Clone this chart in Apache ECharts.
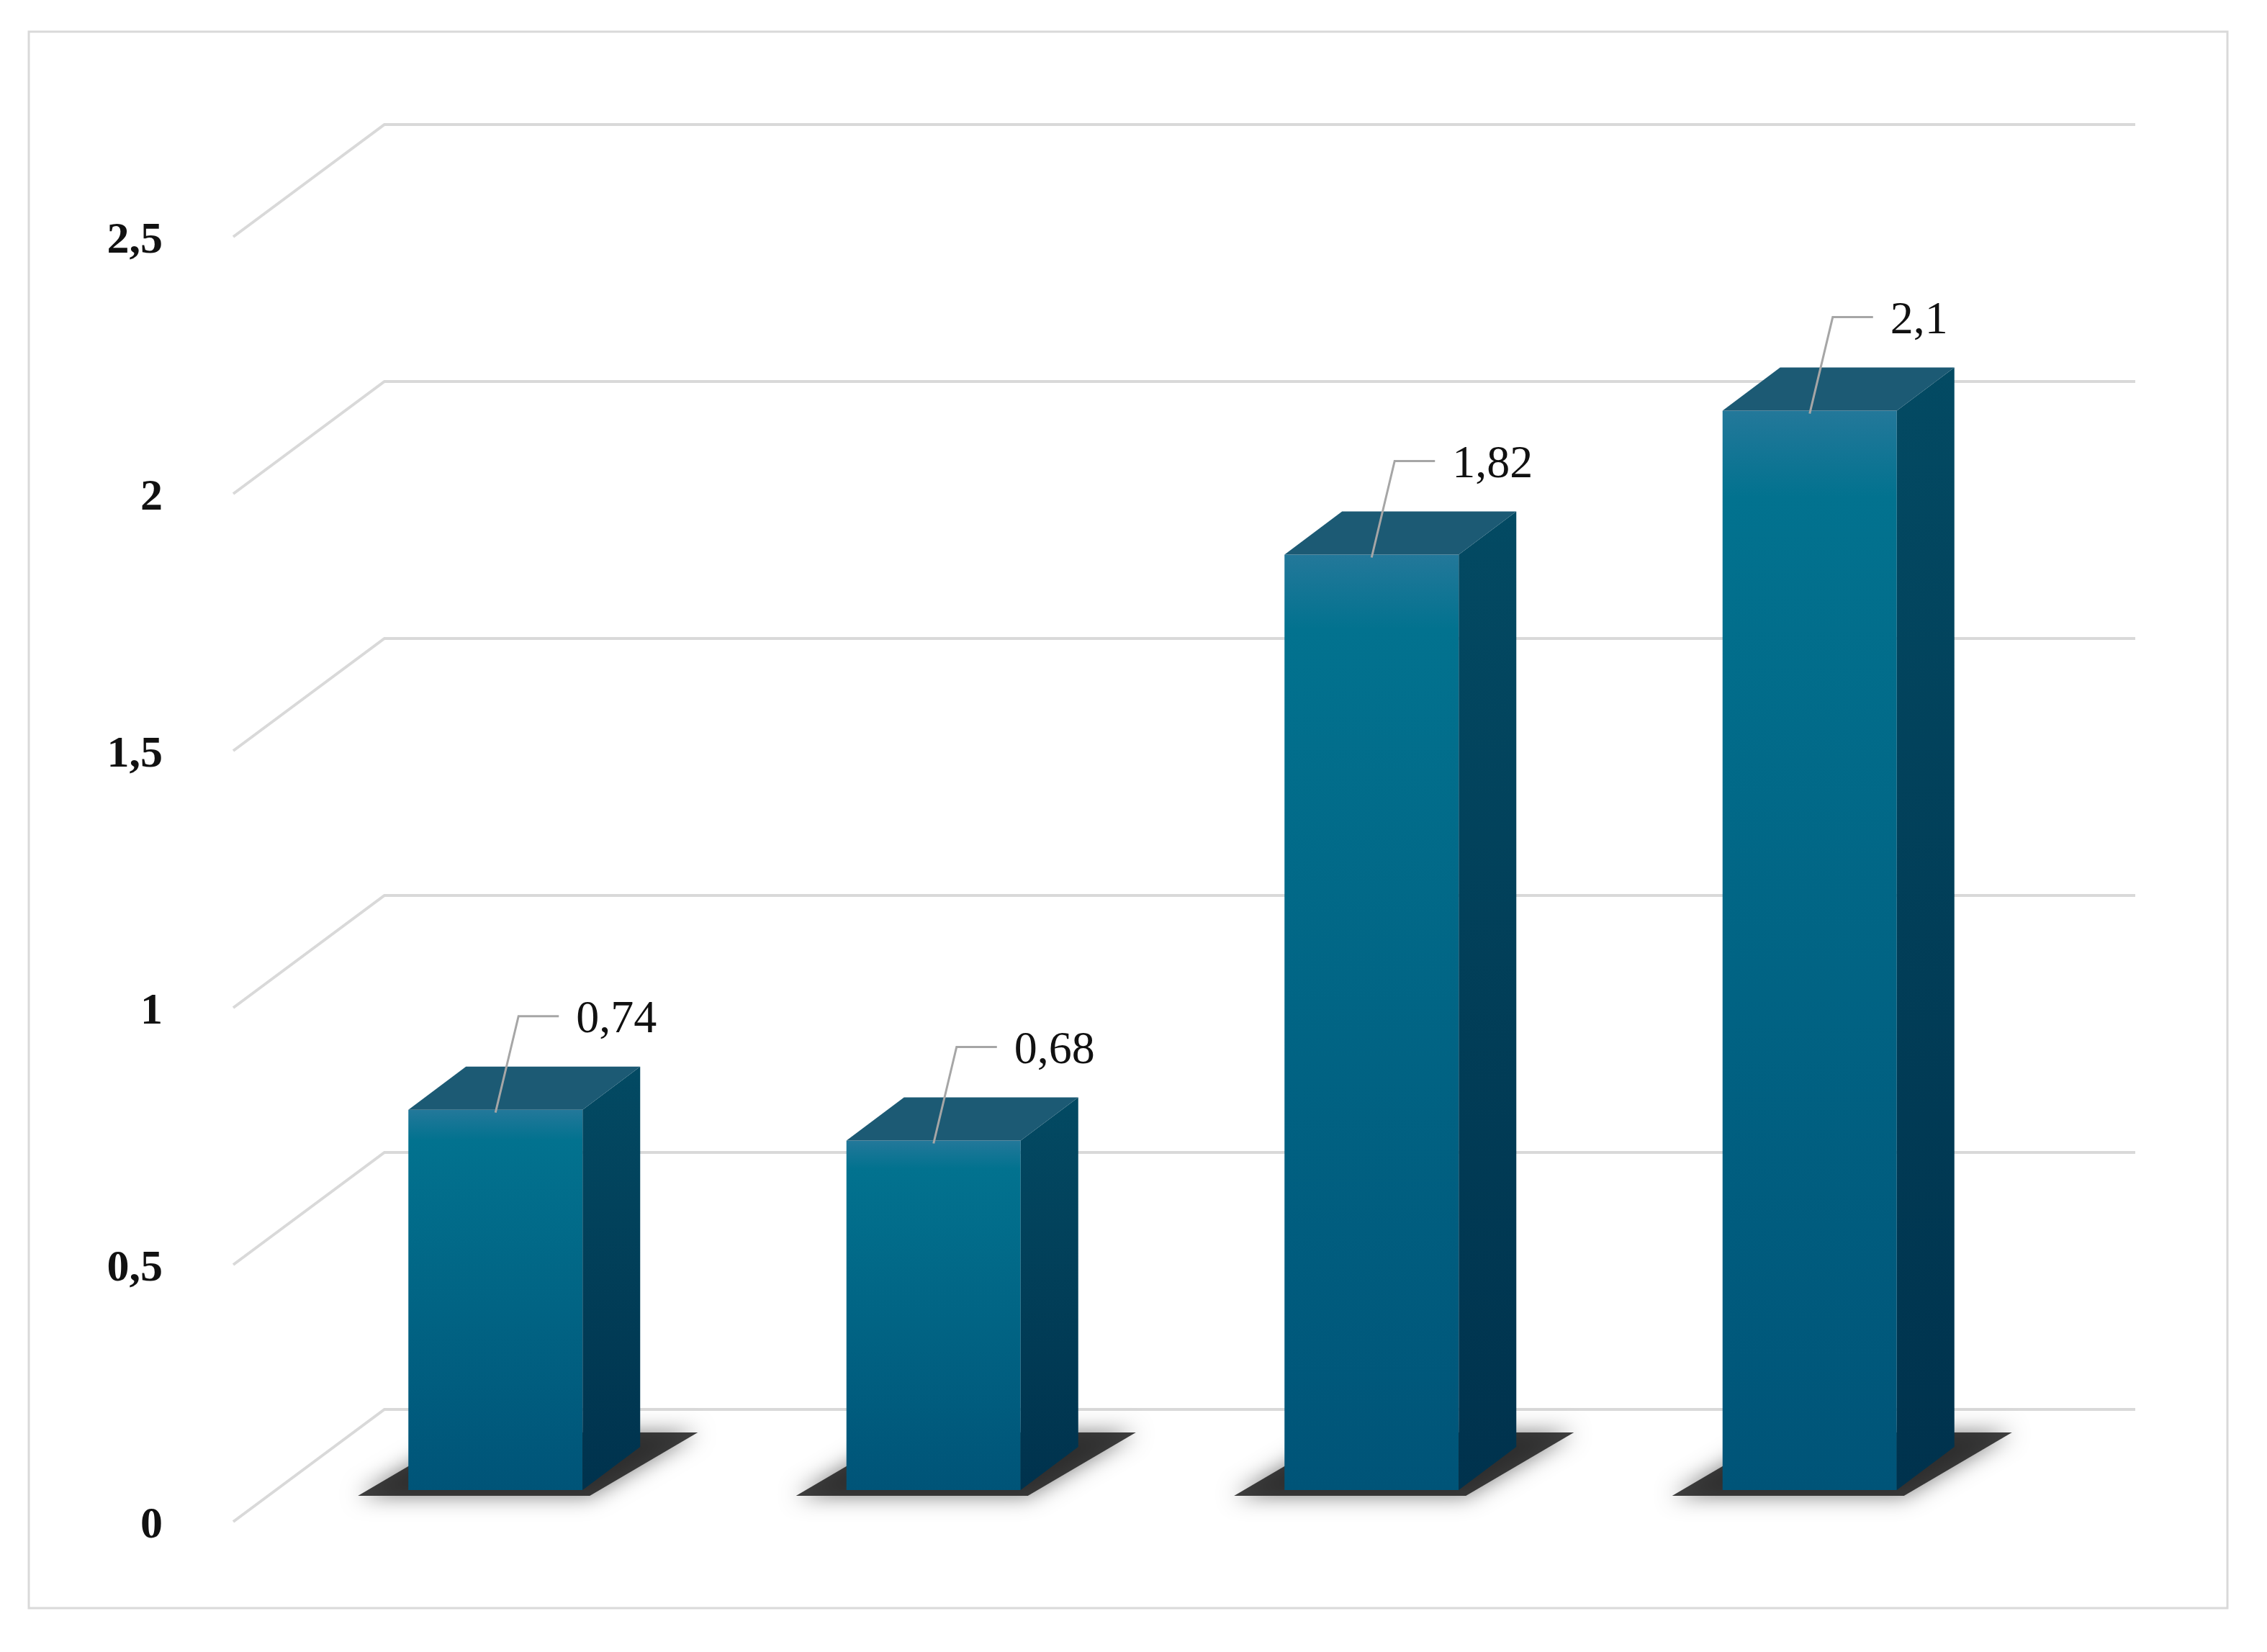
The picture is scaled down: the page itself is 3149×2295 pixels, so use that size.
<!DOCTYPE html>
<html>
<head>
<meta charset="utf-8">
<script src="https://cdn.jsdelivr.net/npm/echarts@6/dist/echarts.min.js"></script>
<style>html,body{margin:0;background:#fff}#chart{width:3149px;height:2295px}</style>
</head>
<body>
<div id="chart"></div>
<script>
const categories = ["A", "B", "C", "D"]
const values = [0.74, 0.68, 1.82, 2.1]
const valueLabels = ["0,74", "0,68", "1,82", "2,1"]
const tickValues = [0, 0.5, 1, 1.5, 2, 2.5]
const tickLabels = ["0", "0,5", "1", "1,5", "2", "2,5"]

// depth offsets from the bar plane
const BACK = [150, -112]
const FRONT = [-60, 44]
const SIDE = [80, -60]
const BAR_W = 242
const GRID_RIGHT_X = 2966

const chart = echarts.init(document.getElementById("chart"))

chart.setOption({
  backgroundColor: "#fff",
  animation: false,
  graphic: [{
    type: "rect",
    shape: { x: 40, y: 44, width: 3054, height: 2190 },
    style: { fill: "none", stroke: "#d9d9d9", lineWidth: 3 }
  }],
  grid: { left: 384, right: 331, top: 285, bottom: 225 },
  xAxis: { type: "category", data: categories, show: false },
  yAxis: { type: "value", min: 0, max: 2.5, interval: 0.5, show: false },
  series: [
    {
      type: "custom",
      data: tickValues.map((v, i) => [0, v, i]),
      z: 1,
      renderItem: (params, api) => {
        const x0 = params.coordSys.x
        const y = api.coord([0, api.value(1)])[1]
        const lineStyle = { stroke: "#d9d9d9", lineWidth: 4, fill: "none" }
        return {
          type: "group",
          children: [
            {
              type: "polyline",
              shape: { points: [[x0 + FRONT[0], y + FRONT[1]], [x0 + BACK[0], y + BACK[1]], [GRID_RIGHT_X, y + BACK[1]]] },
              style: lineStyle
            },
            {
              type: "text",
              style: {
                text: tickLabels[api.value(2)],
                x: 226, y: y + FRONT[1] + 6,
                align: "right", verticalAlign: "middle",
                font: "bold 62px 'Liberation Serif', serif",
                fill: "#111"
              }
            }
          ]
        }
      }
    },
    {
      type: "custom",
      data: values.map((v, i) => [i, v, i]),
      z: 2,
      renderItem: (params, api) => {
        const base = api.coord([api.value(0), 0])
        const top = api.coord([api.value(0), api.value(1)])
        const l = base[0] - BAR_W / 2
        const r = base[0] + BAR_W / 2
        const b = base[1]
        const t = top[1]
        const [dx, dy] = SIDE
        const idx = api.value(2)
        const lx = l + 120, ly = t - 130
        return {
          type: "group",
          children: [
            {
              type: "polygon",
              shape: { points: [[l - 70, b + 8], [r + 10, b + 8], [r + dx + 80, b - 80], [l + dx, b - 80]] },
              style: { fill: "rgba(30,30,30,0.85)", shadowBlur: 30, shadowColor: "rgba(0,0,0,0.6)" }
            },
            {
              type: "rect",
              shape: { x: l, y: t, width: BAR_W, height: b - t },
              style: {
                fill: new echarts.graphic.LinearGradient(0, 0, 0, 1, [
                  { offset: 0, color: "#23789a" },
                  { offset: 0.08, color: "#02728f" },
                  { offset: 1, color: "#005478" }
                ])
              }
            },
            {
              type: "polygon",
              shape: { points: [[r, t], [r + dx, t + dy], [r + dx, b + dy], [r, b]] },
              style: { fill: new echarts.graphic.LinearGradient(0, 0, 0, 1, [
                { offset: 0, color: "#034a63" },
                { offset: 1, color: "#00324d" }
              ]) }
            },
            {
              type: "polygon",
              shape: { points: [[l, t], [r, t], [r + dx, t + dy], [l + dx, t + dy]] },
              style: { fill: "#1c5a74" }
            },
            {
              type: "polyline",
              shape: { points: [[base[0], t + 4], [base[0] + 32, ly], [base[0] + 88, ly]] },
              style: { stroke: "#a6a6a6", lineWidth: 3, fill: "none" }
            },
            {
              type: "text",
              style: {
                text: valueLabels[idx],
                x: base[0] + 112, y: ly + 6,
                verticalAlign: "middle",
                font: "64px 'Liberation Serif', serif",
                fill: "#111"
              }
            }
          ]
        }
      }
    }
  ]
})
</script>
</body>
</html>
